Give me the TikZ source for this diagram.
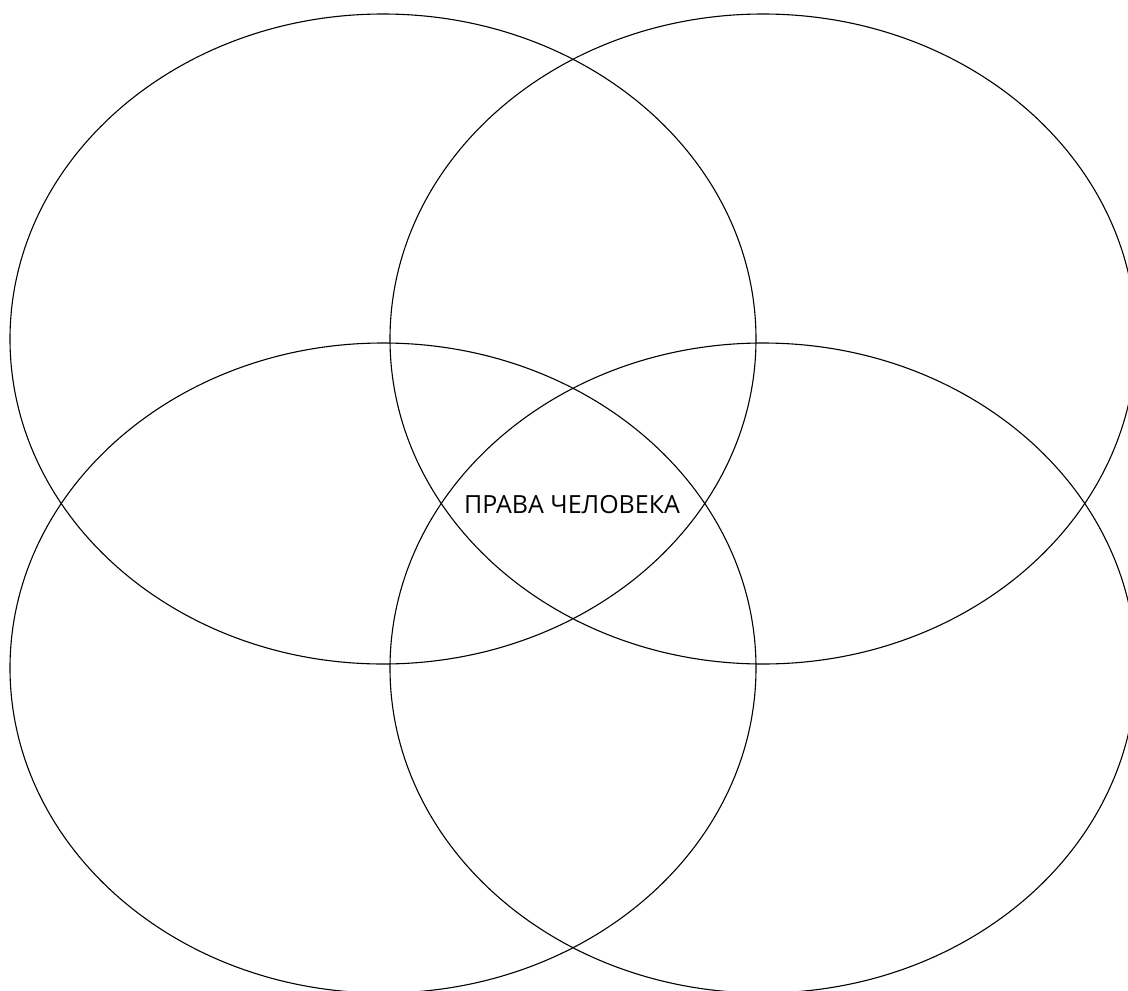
\documentclass[tikz,border=0pt]{standalone}
\usepackage{fontspec}
\setmainfont{Open Sans}
\usepackage{tikz}
\usetikzlibrary{positioning}

\begin{document}
\begin{tikzpicture}[x=1pt,y=-1pt,
    ring/.style={line width=1.1pt},
    label/.style={font=\fontsize{25}{30}\selectfont}]
  \clip (0,0) rectangle (1128,991);

  % four overlapping rings
  \foreach \cx/\cy in {383/339,763/339,383/668,763/668}
    \draw[ring] (\cx,\cy) ellipse[x radius=373,y radius=325];

  \node[label] (rights) at (572,505) {ПРАВА ЧЕЛОВЕКА};
\end{tikzpicture}
\end{document}
